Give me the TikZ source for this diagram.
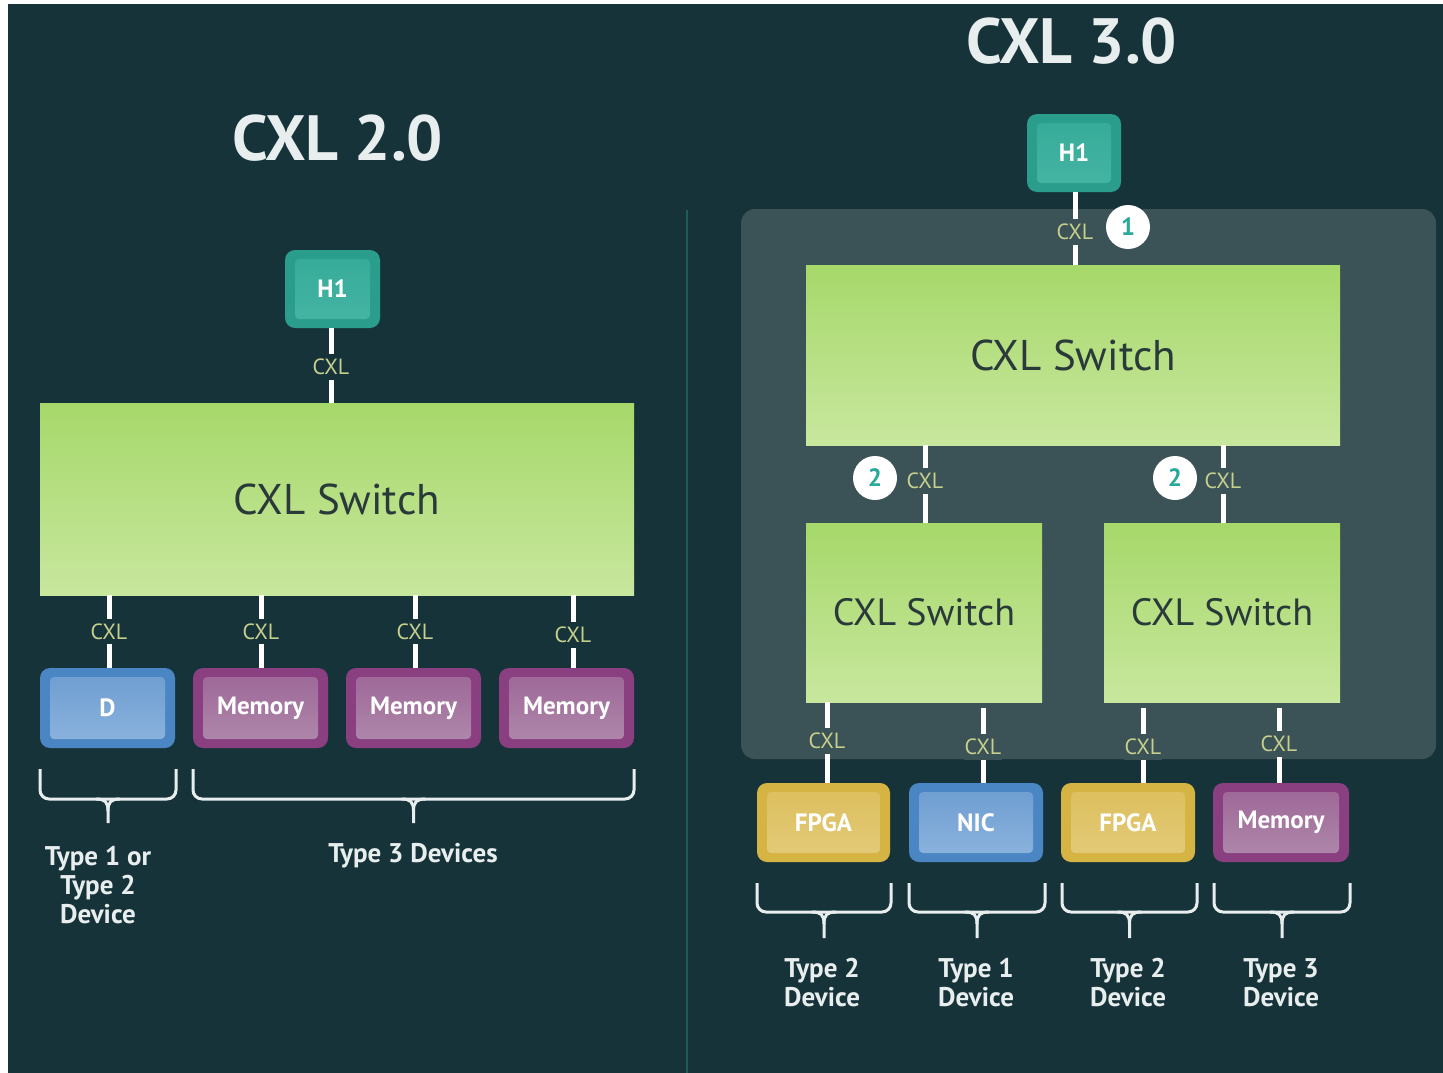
\documentclass[tikz,border=0pt]{standalone}
\usepackage{fontspec}
\setmainfont{PT Sans}
\usetikzlibrary{calc}
\definecolor{bg}{HTML}{17333A}
\definecolor{panel}{HTML}{3B5256}
\definecolor{divider}{HTML}{1F5C55}
\definecolor{cxl}{HTML}{C6CF8C}
\definecolor{swtop}{HTML}{A6D86A}
\definecolor{swbot}{HTML}{C8E79E}
\definecolor{swtext}{HTML}{2A3A3A}
\definecolor{tealo}{HTML}{2A9D8C}
\definecolor{teali1}{HTML}{35AA98}
\definecolor{teali2}{HTML}{46B5A4}
\definecolor{blueo}{HTML}{4B86C4}
\definecolor{bluei1}{HTML}{6C9CD0}
\definecolor{bluei2}{HTML}{8DB4DE}
\definecolor{purpo}{HTML}{8A3F80}
\definecolor{purpi1}{HTML}{9C6596}
\definecolor{purpi2}{HTML}{B08AAC}
\definecolor{yelo}{HTML}{D6B443}
\definecolor{yeli1}{HTML}{DDBE5C}
\definecolor{yeli2}{HTML}{E3CB7A}
\definecolor{offwhite}{HTML}{E8EEEE}
\definecolor{numteal}{HTML}{2AA89A}
\tikzset{
  devbox/.style n args={3}{rounded corners=10, fill=#1, text=white,
    font=\bfseries\fontsize{25}{25}\selectfont, inner sep=0pt,
    path picture={\fill[rounded corners=4, top color=#2, bottom color=#3]
      ($(path picture bounding box.south west)+(10,-9)$) rectangle
      ($(path picture bounding box.north east)+(-10,9)$);}},
  switchbox/.style={top color=swtop, bottom color=swbot, text=swtext,
    font=\fontsize{43}{43}\selectfont, inner sep=0pt},
  link/.style={draw=white, line width=5pt},
  lbl/.style={text=cxl, font=\fontsize{22}{22}\selectfont, inner xsep=1pt, inner ysep=5pt},
  numc/.style={circle, fill=white, minimum size=44pt, inner sep=0pt, text=numteal,
    font=\bfseries\fontsize{25}{25}\selectfont},
  bracestyle/.style={draw=offwhite, line width=3pt},
  typetext/.style={text=offwhite, align=center, font=\bfseries\fontsize{27}{29}\selectfont},
  titletext/.style={text=offwhite, font=\bfseries\fontsize{64}{64}\selectfont}
}
\newcommand\mybrace[6]{% x1 x2 ytop ybar ytip name
  \coordinate (#6) at ({(#1+#2)/2},#5);
  \draw[bracestyle, rounded corners=9] (#1,#3) -- (#1,#4) -- (#2,#4) -- (#2,#3);
  \draw[bracestyle] ({(#1+#2)/2-12},#4) .. controls ({(#1+#2)/2-3},#4) and ({(#1+#2)/2},#4+3) .. ({(#1+#2)/2},#4+12) -- (#6);
  \draw[bracestyle] ({(#1+#2)/2+12},#4) .. controls ({(#1+#2)/2+3},#4) and ({(#1+#2)/2},#4+3) .. ({(#1+#2)/2},#4+12);
}
\begin{document}
\begin{tikzpicture}[x=1pt,y=-1pt]
\useasboundingbox (0,0) rectangle (1443,1073);
\fill[white] (0,0) rectangle (1443,1073);
\fill[bg] (8,4) rectangle (1443,1073);

% divider
\draw[divider, line width=2pt] (687,210) -- (687,1073);

% ================= CXL 2.0 =================
\node[titletext] (t2) at (338,138) {CXL 2.0};
\node[devbox={tealo}{teali1}{teali2}, minimum width=95pt, minimum height=78pt] (h1a) at (332.5,289) {H1};
\node[switchbox, minimum width=594pt, minimum height=192pt] (swa) at (337,499) {CXL Switch};

\node[devbox={blueo}{bluei1}{bluei2}, minimum width=135pt, minimum height=80pt] (da) at (107.5,708) {D};
\node[devbox={purpo}{purpi1}{purpi2}, minimum width=135pt, minimum height=80pt] (ma) at (260.5,708) {Memory};
\node[devbox={purpo}{purpi1}{purpi2}, minimum width=135pt, minimum height=80pt] (mb) at (413.5,708) {Memory};
\node[devbox={purpo}{purpi1}{purpi2}, minimum width=135pt, minimum height=80pt] (mc) at (566.5,708) {Memory};

\draw[link] (h1a.south -| 331,0) -- node[lbl, fill=bg, pos=0.52] {CXL} (swa.north -| 331,0);
\draw[link] (swa.south -| 109,0) -- node[lbl, fill=bg] {CXL} (da.north -| 109,0);
\draw[link] (swa.south -| 261,0) -- node[lbl, fill=bg] {CXL} (ma.north -| 261,0);
\draw[link] (swa.south -| 415,0) -- node[lbl, fill=bg] {CXL} (mb.north -| 415,0);
\draw[link] (swa.south -| 573,0) -- node[lbl, fill=bg, pos=0.55] {CXL} (mc.north -| 573,0);

\mybrace{40}{176}{769}{799}{823}{bra}
\mybrace{193}{634}{769}{799}{823}{brb}
\node[typetext] (la) at (98,885) {Type 1 or\\Type 2\\Device};
\node[typetext] (lb) at (413,856) {Type 3 Devices};

% ================= CXL 3.0 =================
\node[titletext] (t3) at (1072,41) {CXL 3.0};
\fill[panel, rounded corners=14] (741,209) rectangle (1436,759);
\node[devbox={tealo}{teali1}{teali2}, minimum width=94pt, minimum height=78pt] (h1b) at (1074,153) {H1};
\node[switchbox, minimum width=534pt, minimum height=180pt] (swb) at (1073,355) {CXL Switch};
\node[switchbox, minimum width=236pt, minimum height=179pt, font=\fontsize{38}{38}\selectfont] (swc) at (924,612.5) {CXL Switch};
\node[switchbox, minimum width=236pt, minimum height=179pt, font=\fontsize{38}{38}\selectfont] (swd) at (1222,612.5) {CXL Switch};

\node[devbox={yelo}{yeli1}{yeli2}, minimum width=133pt, minimum height=79pt] (fa) at (823.5,822.5) {FPGA};
\node[devbox={blueo}{bluei1}{bluei2}, minimum width=134pt, minimum height=79pt] (nic) at (976,822.5) {NIC};
\node[devbox={yelo}{yeli1}{yeli2}, minimum width=134pt, minimum height=79pt] (fb) at (1128,822.5) {FPGA};
\node[devbox={purpo}{purpi1}{purpi2}, minimum width=136pt, minimum height=79pt] (md) at (1281,822.5) {Memory};

\draw[link] (h1b.south -| 1075,0) -- node[lbl, fill=panel, pos=0.55] {CXL} (swb.north -| 1075,0);
\node[numc] (n1) at (1128,227) {1};
\draw[link] (swb.south -| 925,0) -- node[lbl, fill=panel, pos=0.46] {CXL} (swc.north -| 925,0);
\draw[link] (swb.south -| 1223,0) -- node[lbl, fill=panel, pos=0.46] {CXL} (swd.north -| 1223,0);
\node[numc] (n2a) at (875,478) {2};
\node[numc] (n2b) at (1175,478) {2};

\draw[link] (swc.south -| 827,0) -- node[lbl, fill=panel, pos=0.48] {CXL} (fa.north -| 827,0);
\draw[link, shorten <=6pt] (swc.south -| 983,0) -- node[lbl, fill=panel, pos=0.55] {CXL} (nic.north -| 983,0);
\draw[link, shorten <=6pt] (swd.south -| 1143,0) -- node[lbl, fill=panel, pos=0.55] {CXL} (fb.north -| 1143,0);
\draw[link, shorten <=6pt] (swd.south -| 1279,0) -- node[lbl, fill=panel, pos=0.52] {CXL} (md.north -| 1279,0);

\mybrace{757}{891}{883}{912}{938}{brc}
\mybrace{909}{1045}{883}{912}{938}{brd}
\mybrace{1062}{1197}{883}{912}{938}{bre}
\mybrace{1214}{1350}{883}{912}{938}{brf}
\node[typetext] (lc) at (822,983) {Type 2\\Device};
\node[typetext] (ld) at (976,983) {Type 1\\Device};
\node[typetext] (le) at (1128,983) {Type 2\\Device};
\node[typetext] (lf) at (1281,983) {Type 3\\Device};
\end{tikzpicture}
\end{document}
